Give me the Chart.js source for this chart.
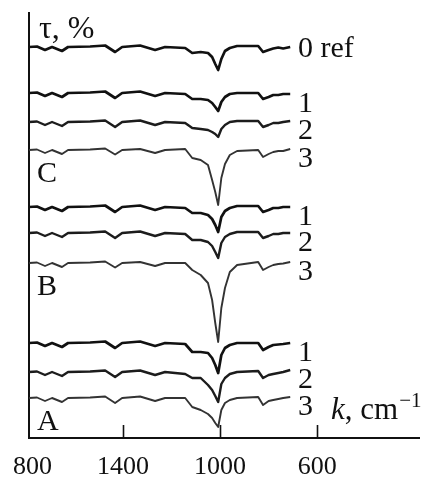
<!DOCTYPE html>
<html>
<head>
<meta charset="utf-8">
<script src="https://cdn.jsdelivr.net/npm/chart.js@4.4.0/dist/chart.umd.min.js"></script>
<style>
html, body { margin: 0; padding: 0; background: #fff; }
canvas { display: block; }
</style>
</head>
<body>
<canvas id="spectra" width="428" height="477"></canvas>
<script>
// wavenumbers, cm-1 (axis runs high -> low)
const wavenumbers = [1788, 1755, 1722, 1693, 1652, 1627, 1536, 1474, 1433, 1404, 1330, 1268, 1227, 1144,
    1115, 1080, 1050, 1033, 1020, 1008, 995, 980, 960, 930, 843, 823, 800, 781, 760, 740, 711];

// transmittance, offset for stacking (arbitrary units)
const ref0 = [391, 391.5, 388, 391, 387, 391, 391.5, 392.5, 386, 391, 392.5, 388, 391, 390,
    385, 386, 385, 381, 374, 368, 379, 387, 390, 392, 392, 386, 388, 389.5, 390.5, 389.5, 391];
const c1 = [345, 345.5, 342, 345, 341, 345, 345.5, 346.5, 340, 345, 346.5, 342, 345, 344,
    339, 339, 338, 335, 331, 327, 336, 341, 344, 345, 345, 339, 341, 343, 343, 344, 344];
const c2 = [316, 316.5, 313, 316, 312, 316, 316.5, 317.5, 311, 316, 317.5, 313, 316, 315,
    310, 309, 308, 306, 304, 301, 309, 313, 316, 317, 317, 311, 313, 315, 315, 316, 317];
const c3 = [288, 288.5, 285, 288, 284, 288, 288.5, 289.5, 283.5, 288, 289, 285, 288, 289,
    280, 278, 273, 258, 246, 233, 260, 274, 283, 287, 288, 281, 284, 286, 287, 287, 289];
const b1 = [231, 231.5, 228, 231, 227, 231, 231.5, 232.5, 226, 231, 232.5, 228, 231, 230,
    225, 225, 223, 219, 213, 206, 221, 227, 230, 232, 232, 226, 228, 230, 230, 231, 231];
const b2 = [205, 205.5, 202, 205, 201, 205, 205.5, 206.5, 200, 205, 206.5, 202, 205, 204,
    198, 198, 196, 192, 186, 180, 195, 201, 204, 206, 206, 200, 202, 204, 204, 205, 205];
const b3 = [175, 175.5, 172, 175, 171, 175, 175.5, 176.5, 170.5, 175, 176, 172, 175, 175,
    168, 163, 155, 138, 115, 96, 130, 150, 166, 173, 176, 168, 171, 173, 174, 174.5, 176];
const a1 = [95, 95.5, 92, 95, 91, 95, 95.5, 96.5, 90, 95, 96.5, 92, 95, 94,
    86, 86, 85, 80, 73, 65, 83, 90, 93, 95, 95, 88, 91, 93, 93.5, 94, 95];
const a2 = [66, 66.5, 63, 66, 62, 66, 66.5, 67.5, 61, 66, 67.5, 63, 66, 64,
    60, 60, 53, 48, 42, 36, 54, 60, 64, 66, 67, 60, 63, 64, 65, 66, 68];
const a3 = [40, 40.5, 37, 40, 36, 40, 40.5, 41.5, 35, 40, 41.5, 37, 40, 40,
    31, 28, 24, 20, 15, 11, 28, 35, 38, 40, 41, 33, 37, 38, 39, 40, 41];

const seriesData = [ref0, c1, c2, c3, b1, b2, b3, a1, a2, a3];
const seriesLabels = ['0 ref', '1', '2', '3', '1', '2', '3', '1', '2', '3'];
const groupLabels = ['C', 'B', 'A'];
const tickValues = [1800, 1400, 1000, 600];
const tickLabels = ['800', '1400', '1000', '600'];

const serif = '"Liberation Serif", "Times New Roman", serif';

function lineStyle(label) {
    if (label == '3') return { color: '#333', width: 1.9 };
    if (label == '2') return { color: '#1c1c1c', width: 2.4 };
    return { color: '#111', width: 2.7 };
}

let datasets = [];
for (let i = 0; i < seriesData.length; i++) {
    let st = lineStyle(seriesLabels[i]);
    datasets.push({
        label: seriesLabels[i],
        data: wavenumbers.map((k, j) => ({ x: k, y: seriesData[i][j] })),
        borderColor: st.color,
        borderWidth: st.width,
        borderJoinStyle: 'round',
        pointRadius: 0,
        tension: 0,
        fill: false
    });
}

const textPlugin = {
    id: 'spectraText',
    afterDraw(chart) {
        const ctx = chart.ctx;
        const xs = chart.scales.x;
        const ys = chart.scales.y;
        const area = chart.chartArea;
        ctx.save();
        ctx.fillStyle = '#111';
        ctx.strokeStyle = '#111';

        // inner tick marks
        ctx.lineWidth = 1.6;
        for (let i = 1; i < tickValues.length; i++) {
            let px = Math.round(xs.getPixelForValue(tickValues[i])) + 0.5;
            ctx.beginPath();
            ctx.moveTo(px, area.bottom);
            ctx.lineTo(px, area.bottom - 13);
            ctx.stroke();
        }

        // tick labels (first one is clipped at the left edge)
        ctx.font = '26px ' + serif;
        ctx.textBaseline = 'alphabetic';
        for (let i = 0; i < tickValues.length; i++) {
            let px = xs.getPixelForValue(tickValues[i]);
            if (i == 0) {
                ctx.textAlign = 'right';
                ctx.fillText(tickLabels[i], px + ctx.measureText('1' + tickLabels[i]).width / 2, 474);
            } else {
                ctx.textAlign = 'center';
                ctx.fillText(tickLabels[i], px, 474);
            }
        }

        // series labels at the right end of each trace
        ctx.font = '30px ' + serif;
        ctx.textAlign = 'left';
        for (let i = 0; i < seriesData.length; i++) {
            let last = seriesData[i][seriesData[i].length - 1];
            let py = ys.getPixelForValue(last);
            ctx.fillText(seriesLabels[i], 298, py + (i == 0 ? 10 : 18));
        }

        // group letters
        const groupY = [182, 295, 430];
        for (let i = 0; i < groupLabels.length; i++) {
            ctx.fillText(groupLabels[i], 37, groupY[i]);
        }

        // axis titles
        ctx.font = '32px ' + serif;
        ctx.fillText('\u03c4, %', 39, 38);
        ctx.font = 'italic 31px ' + serif;
        ctx.fillText('k', 331, 419);
        let w = ctx.measureText('k').width;
        ctx.font = '31px ' + serif;
        ctx.fillText(', cm', 331 + w, 419);
        w += ctx.measureText(', cm').width;
        ctx.font = '21px ' + serif;
        ctx.fillText('\u22121', 331 + w + 1, 407);
        ctx.restore();
    }
};

const ctx = document.getElementById('spectra').getContext('2d');
const chart = new Chart(ctx, {
    type: 'line',
    data: { datasets: datasets },
    options: {
        responsive: false,
        animation: false,
        devicePixelRatio: 1,
        layout: { padding: { left: 29, right: 9, top: 13, bottom: 39 } },
        plugins: { legend: { display: false }, tooltip: { enabled: false } },
        scales: {
            x: {
                type: 'linear',
                reverse: true,
                min: 180,
                max: 1788,
                ticks: { display: false },
                grid: { drawOnChartArea: false, drawTicks: false },
                border: { display: true, color: '#111', width: 2 }
            },
            y: {
                type: 'linear',
                min: 0,
                max: 425,
                ticks: { display: false },
                grid: { drawOnChartArea: false, drawTicks: false },
                border: { display: true, color: '#111', width: 2 }
            }
        }
    },
    plugins: [textPlugin]
});
</script>
</body>
</html>
